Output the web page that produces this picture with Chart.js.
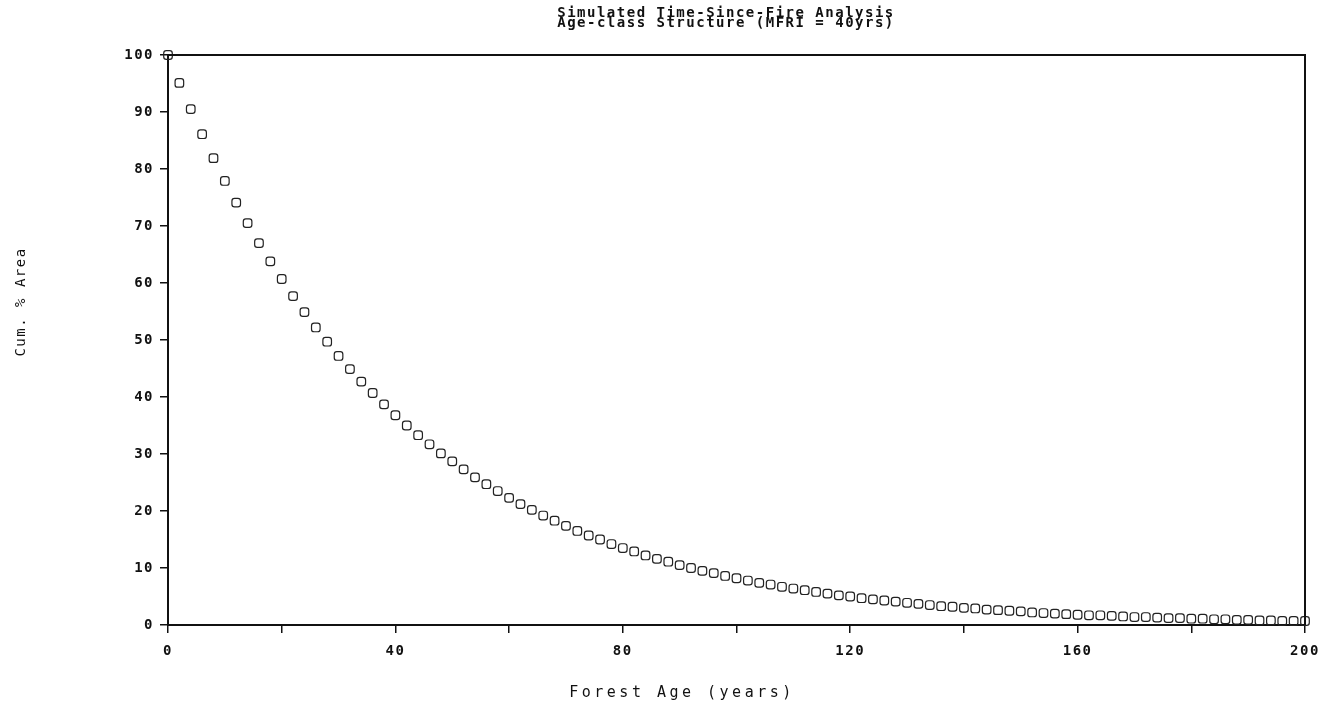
<!DOCTYPE html>
<html>
<head>
<meta charset="utf-8">
<title>Simulated Time-Since-Fire Analysis</title>
<script src="https://cdn.jsdelivr.net/npm/chart.js@4/dist/chart.umd.min.js"></script>
<style>
  html, body { margin: 0; padding: 0; background: #fff; }
  canvas { display: block; }
</style>
</head>
<body>
<canvas id="fireChart" width="1340" height="710"></canvas>
<script>
// Forest age (years), one sample every 2 years
const ages = [
  0, 2, 4, 6, 8, 10, 12, 14, 16, 18, 20, 22, 24, 26, 28, 30, 32, 34, 36, 38,
  40, 42, 44, 46, 48, 50, 52, 54, 56, 58, 60, 62, 64, 66, 68, 70, 72, 74, 76, 78,
  80, 82, 84, 86, 88, 90, 92, 94, 96, 98, 100, 102, 104, 106, 108, 110, 112, 114, 116, 118,
  120, 122, 124, 126, 128, 130, 132, 134, 136, 138, 140, 142, 144, 146, 148, 150, 152, 154, 156, 158,
  160, 162, 164, 166, 168, 170, 172, 174, 176, 178, 180, 182, 184, 186, 188, 190, 192, 194, 196, 198, 200
];

// Cumulative % of area at or above each age
const cumArea = [
  100, 95.1, 90.5, 86.1, 81.9, 77.9, 74.1, 70.5, 67.0, 63.8, 60.7, 57.7, 54.9, 52.2, 49.7, 47.2, 44.9, 42.7, 40.7, 38.7,
  36.8, 35.0, 33.3, 31.7, 30.1, 28.7, 27.3, 25.9, 24.7, 23.5, 22.3, 21.2, 20.2, 19.2, 18.3, 17.4, 16.5, 15.7, 15.0, 14.2,
  13.5, 12.9, 12.2, 11.6, 11.1, 10.5, 10.0, 9.5, 9.1, 8.6, 8.2, 7.8, 7.4, 7.1, 6.7, 6.4, 6.1, 5.8, 5.5, 5.2,
  5.0, 4.7, 4.5, 4.3, 4.1, 3.9, 3.7, 3.5, 3.3, 3.2, 3.0, 2.9, 2.7, 2.6, 2.5, 2.4, 2.2, 2.1, 2.0, 1.9,
  1.8, 1.7, 1.7, 1.6, 1.5, 1.4, 1.4, 1.3, 1.2, 1.2, 1.1, 1.1, 1.0, 1.0, 0.9, 0.9, 0.8, 0.8, 0.7, 0.7, 0.7
];

const xLabelEvery = 40;   // ticks every 20, numbers every 40
const titleLines = ["Simulated Time-Since-Fire Analysis", "Age-class Structure (MFRI = 40yrs)"];
const xTitle = "Forest Age (years)";
const yTitle = "Cum. % Area";

const ink = "#111";
const monoFont = "'DejaVu Sans Mono', 'Liberation Mono', monospace";

// Wide, old-plotter-looking text: spread the letters out a bit
const spacingPlugin = {
  id: "spacing",
  beforeDraw(chart) {
    chart.ctx.letterSpacing = "1.5px";
  }
};

// Frame on top/right plus the three titles
const framePlugin = {
  id: "frame",
  afterDraw(chart) {
    const { ctx, chartArea } = chart;
    ctx.save();
    ctx.strokeStyle = ink;
    ctx.lineWidth = 2;
    ctx.beginPath();
    ctx.moveTo(chartArea.left, chartArea.top);
    ctx.lineTo(chartArea.right, chartArea.top);
    ctx.lineTo(chartArea.right, chartArea.bottom);
    ctx.stroke();

    ctx.fillStyle = ink;
    ctx.textAlign = "center";
    ctx.textBaseline = "alphabetic";
    ctx.font = "bold 14px " + monoFont;
    ctx.letterSpacing = "1.5px";
    ctx.fillText(titleLines[0], 726, 17);
    ctx.fillText(titleLines[1], 726, 27);

    ctx.font = "15px " + monoFont;
    ctx.letterSpacing = "3.5px";
    ctx.fillText(xTitle, 682, 697);

    ctx.translate(25, 302);
    ctx.rotate(-Math.PI / 2);
    ctx.font = "14px " + monoFont;
    ctx.letterSpacing = "1.5px";
    ctx.fillText(yTitle, 0, 0);
    ctx.restore();
  }
};

new Chart(document.getElementById("fireChart"), {
  type: "scatter",
  data: {
    datasets: [
      {
        label: "Cum. % Area",
        data: ages.map((a, i) => ({ x: a, y: cumArea[i] })),
        pointStyle: "rectRounded",
        pointRadius: 5,
        pointBorderWidth: 1.2,
        pointBorderColor: "#222",
        pointBackgroundColor: "rgba(0,0,0,0)",
        clip: false,
      },
    ],
  },
  options: {
    responsive: false,
    animation: false,
    events: [],
    layout: {
      padding: { top: 55, right: 35, left: 0, bottom: 0 },
    },
    plugins: {
      legend: { display: false },
      tooltip: { enabled: false },
    },
    scales: {
      x: {
        type: "linear",
        min: 0,
        max: 200,
        afterFit(scale) {
          scale.height = 85;
        },
        ticks: {
          stepSize: 20,
          autoSkip: false,
          maxRotation: 0,
          padding: 10,
          color: ink,
          font: { family: monoFont, size: 14, weight: "bold" },
          callback: (v) => (v % xLabelEvery === 0 ? v : ""),
        },
        grid: {
          drawOnChartArea: false,
          drawTicks: true,
          tickLength: 8,
          color: ink,
          lineWidth: 1.5,
        },
        border: { display: true, color: ink, width: 2 },
      },
      y: {
        min: 0,
        max: 100,
        afterFit(scale) {
          scale.width = 168;
        },
        ticks: {
          stepSize: 10,
          padding: 6,
          color: ink,
          font: { family: monoFont, size: 14, weight: "bold" },
        },
        grid: {
          drawOnChartArea: false,
          drawTicks: true,
          tickLength: 8,
          color: ink,
          lineWidth: 1.5,
        },
        border: { display: true, color: ink, width: 2 },
      },
    },
  },
  plugins: [spacingPlugin, framePlugin],
});
</script>
</body>
</html>
